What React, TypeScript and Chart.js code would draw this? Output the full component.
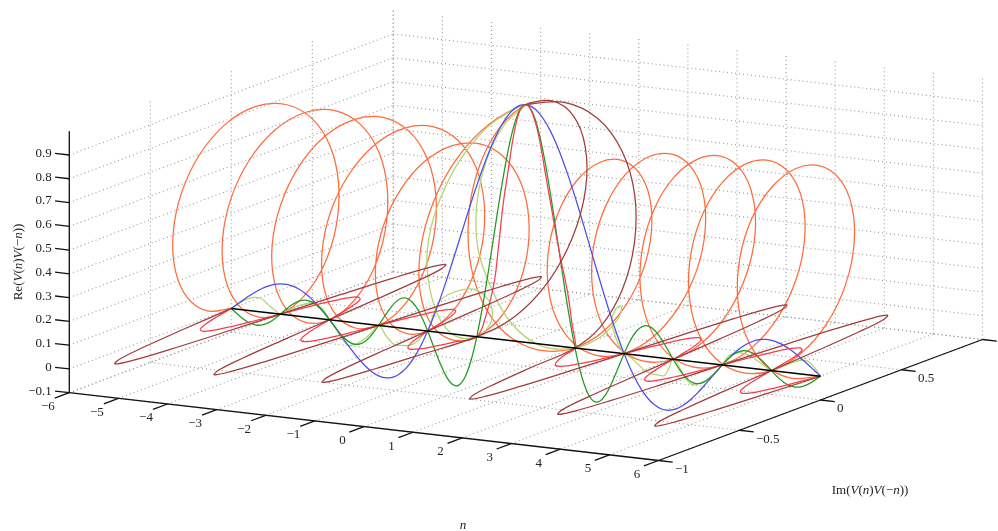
import React, { useEffect, useRef } from "react";
import { Chart, registerables } from "chart.js";

Chart.register(...registerables);

const WIDTH = 998;
const HEIGHT = 531;

// Tick values of the three axes
const nTicks = [-6, -5, -4, -3, -2, -1, 0, 1, 2, 3, 4, 5, 6];
const imTicks = [-1, -0.5, 0, 0.5, 1];
const imLabels = ["\u22121", "\u22120.5", "0", "0.5", ""];
const reTicks = [-0.1, 0, 0.1, 0.2, 0.3, 0.4, 0.5, 0.6, 0.7, 0.8, 0.9];
const reLabels = ["\u22120.1", "0", "0.1", "0.2", "0.3", "0.4", "0.5", "0.6", "0.7", "0.8", "0.9"];

// Every curve is even in n, so values are read for n >= 0 and mirrored.
const nValues = [
  0, 0.125, 0.25, 0.375, 0.5, 0.625, 0.75, 0.875,
  1, 1.125, 1.25, 1.375, 1.5, 1.625, 1.75, 1.875,
  2, 2.125, 2.25, 2.375, 2.5, 2.625, 2.75, 2.875,
  3, 3.125, 3.25, 3.375, 3.5, 3.625, 3.75, 3.875,
  4, 4.125, 4.25, 4.375, 4.5, 4.625, 4.75, 4.875,
  5, 5.125, 5.25, 5.375, 5.5, 5.625, 5.75, 5.875, 6,
];

// The orange loops are wide, so they are read twice as densely.
const nOrange = [
  0, 0.0625, 0.125, 0.1875, 0.25, 0.3125, 0.375, 0.4375, 0.5, 0.5625, 0.625, 0.6875, 0.75, 0.8125, 0.875, 0.9375,
  1, 1.0625, 1.125, 1.1875, 1.25, 1.3125, 1.375, 1.4375, 1.5, 1.5625, 1.625, 1.6875, 1.75, 1.8125, 1.875, 1.9375,
  2, 2.0625, 2.125, 2.1875, 2.25, 2.3125, 2.375, 2.4375, 2.5, 2.5625, 2.625, 2.6875, 2.75, 2.8125, 2.875, 2.9375,
  3, 3.0625, 3.125, 3.1875, 3.25, 3.3125, 3.375, 3.4375, 3.5, 3.5625, 3.625, 3.6875, 3.75, 3.8125, 3.875, 3.9375,
  4, 4.0625, 4.125, 4.1875, 4.25, 4.3125, 4.375, 4.4375, 4.5, 4.5625, 4.625, 4.6875, 4.75, 4.8125, 4.875, 4.9375,
  5, 5.0625, 5.125, 5.1875, 5.25, 5.3125, 5.375, 5.4375, 5.5, 5.5625, 5.625, 5.6875, 5.75, 5.8125, 5.875, 5.9375, 6,
];

const blueRe = [
  1, 0.9936, 0.9745, 0.9432, 0.9003, 0.847, 0.7842, 0.7136,
  0.6366, 0.555, 0.4705, 0.385, 0.3001, 0.2177, 0.1392, 0.0662,
  0, -0.0585, -0.1083, -0.1489, -0.1801, -0.2017, -0.2139, -0.2172,
  -0.2122, -0.1998, -0.181, -0.1568, -0.1286, -0.0976, -0.065, -0.0321,
  0, 0.0301, 0.0573, 0.0808, 0.1, 0.1145, 0.1238, 0.1281,
  0.1273, 0.1218, 0.112, 0.0985, 0.0818, 0.0629, 0.0424, 0.0211, 0,
];

const greenRe = [
  1, 0.9745, 0.9003, 0.7842, 0.6366, 0.4705, 0.3001, 0.1392,
  0, -0.1083, -0.1801, -0.2139, -0.2122, -0.181, -0.1286, -0.065,
  0, 0.0573, 0.1, 0.1238, 0.1273, 0.112, 0.0818, 0.0424,
  0, -0.039, -0.0693, -0.0871, -0.0909, -0.0811, -0.06, -0.0314,
  0, 0.0295, 0.053, 0.0672, 0.0707, 0.0636, 0.0474, 0.025,
  0, -0.0238, -0.0429, -0.0547, -0.0579, -0.0523, -0.0391, -0.0207, 0,
];

const orangeIm = [
  0, -0.098, -0.191, -0.278, -0.354, -0.416, -0.462, -0.49, -0.5, -0.49, -0.462, -0.416, -0.354, -0.278, -0.191, -0.098,
  0, 0.152, 0.28, 0.366, 0.396, 0.366, 0.28, 0.152, 0, -0.152, -0.28, -0.366, -0.396, -0.366, -0.28, -0.152,
  0, 0.163, 0.3, 0.393, 0.425, 0.393, 0.3, 0.163, 0, -0.163, -0.3, -0.393, -0.425, -0.393, -0.3, -0.163,
  0, 0.165, 0.304, 0.397, 0.43, 0.397, 0.304, 0.165, 0, -0.165, -0.304, -0.397, -0.43, -0.397, -0.304, -0.165,
  0, 0.166, 0.306, 0.4, 0.433, 0.4, 0.306, 0.166, 0, -0.166, -0.306, -0.4, -0.433, -0.4, -0.306, -0.166,
  0, 0.166, 0.308, 0.402, 0.435, 0.402, 0.308, 0.166, 0, -0.166, -0.308, -0.402, -0.435, -0.402, -0.308, -0.166, 0,
];
const orangeRe = [
  1, 0.99, 0.962, 0.916, 0.854, 0.778, 0.691, 0.598, 0.5, 0.402, 0.309, 0.222, 0.146, 0.084, 0.038, 0.01,
  0, 0.03, 0.116, 0.244, 0.396, 0.548, 0.676, 0.762, 0.792, 0.762, 0.676, 0.548, 0.396, 0.244, 0.116, 0.03,
  0, 0.032, 0.123, 0.259, 0.42, 0.581, 0.717, 0.808, 0.84, 0.808, 0.717, 0.581, 0.42, 0.259, 0.123, 0.032,
  0, 0.032, 0.125, 0.264, 0.427, 0.59, 0.729, 0.822, 0.854, 0.822, 0.729, 0.59, 0.427, 0.264, 0.125, 0.032,
  0, 0.033, 0.126, 0.265, 0.43, 0.595, 0.734, 0.827, 0.86, 0.827, 0.734, 0.595, 0.43, 0.265, 0.126, 0.033,
  0, 0.033, 0.126, 0.266, 0.431, 0.596, 0.736, 0.829, 0.862, 0.829, 0.736, 0.596, 0.431, 0.266, 0.126, 0.033, 0,
];

const brownIm = [
  0, 0.199, 0.368, 0.48, 0.52, 0.48, 0.368, 0.199,
  0, -0.306, -0.566, -0.739, -0.8, -0.739, -0.566, -0.306,
  0, 0.326, 0.602, 0.787, 0.852, 0.787, 0.602, 0.326,
  0, -0.33, -0.61, -0.797, -0.863, -0.797, -0.61, -0.33,
  0, 0.332, 0.614, 0.802, 0.868, 0.802, 0.614, 0.332,
  0, -0.333, -0.615, -0.804, -0.87, -0.804, -0.615, -0.333, 0,
];
const brownRe = [
  1, 0.962, 0.854, 0.691, 0.5, 0.309, 0.146, 0.038,
  0, 0, 0, 0, 0, 0, 0, 0,
  0, 0, 0, 0, 0, 0, 0, 0,
  0, 0, 0, 0, 0, 0, 0, 0,
  0, 0, 0, 0, 0, 0, 0, 0,
  0, 0, 0, 0, 0, 0, 0, 0, 0,
];

const redIm = [
  0, 0, 0.003, 0.006, 0.01, 0.02, 0.03, 0.02,
  0, -0.098, -0.18, -0.236, -0.255, -0.236, -0.18, -0.098,
  0, 0.119, 0.219, 0.286, 0.31, 0.286, 0.219, 0.119,
  0, -0.121, -0.223, -0.291, -0.315, -0.291, -0.223, -0.121,
  0, 0.126, 0.232, 0.303, 0.328, 0.303, 0.232, 0.126,
  0, -0.126, -0.233, -0.305, -0.33, -0.305, -0.233, -0.126, 0,
];
const redRe = [
  1, 0.97, 0.875, 0.72, 0.56, 0.38, 0.22, 0.09,
  0, 0, 0, 0, 0, 0, 0, 0,
  0, 0, 0, 0, 0, 0, 0, 0,
  0, 0, 0, 0, 0, 0, 0, 0,
  0, 0, 0, 0, 0, 0, 0, 0,
  0, 0, 0, 0, 0, 0, 0, 0, 0,
];

const limeIm = [
  0, -0.172, -0.318, -0.416, -0.45, -0.416, -0.318, -0.172,
  0, 0.12, 0.17, 0.17, 0.13, 0.06, 0, -0.01,
  0, 0.01, 0.02, 0.02, 0.02, 0.02, 0.02, 0.01,
  0, 0, -0.01, -0.02, -0.03, -0.02, -0.01, 0,
  0, 0, 0, 0, 0, 0, 0, 0,
  0, 0.005, 0.01, 0.02, 0.03, 0.03, 0.02, 0.01, 0,
];
const limeRe = [
  1, 0.962, 0.855, 0.7, 0.53, 0.37, 0.18, 0.05,
  0, 0.02, 0.067, 0.115, 0.155, 0.16, 0.134, 0.06,
  0, -0.02, -0.05, -0.07, -0.078, -0.08, -0.08, -0.045,
  0, -0.03, -0.06, -0.08, -0.088, -0.08, -0.06, -0.03,
  0, 0.04, 0.055, 0.06, 0.055, 0.045, 0.03, 0.015,
  0, 0.012, 0.025, 0.038, 0.047, 0.048, 0.04, 0.022, 0,
];

// Orthographic view of the 3D box: (n, Im, Re) onto the plane of the picture
const project = (n: number, im: number, re: number) => ({
  x: 69.3 + (n + 6) * 49.1 + (im + 1) * 162,
  y: 392.7 + (n + 6) * 5.65 - (im + 1) * 60.5 - (re + 0.1) * 237.7,
});

const mirrored = (ns: number[], im: number[] | null, re: number[] | null) => {
  const pts: { x: number; y: number }[] = [];
  for (let i = ns.length - 1; i > 0; i--) {
    pts.push(project(-ns[i], im ? im[i] : 0, re ? re[i] : 0));
  }
  for (let i = 0; i < ns.length; i++) {
    pts.push(project(ns[i], im ? im[i] : 0, re ? re[i] : 0));
  }
  return pts;
};

const curve = (data: { x: number; y: number }[], color: string, tension = 0.38) => ({
  data,
  showLine: true,
  borderColor: color,
  borderWidth: 1.25,
  pointRadius: 0,
  tension,
  clip: false,
});

const straight = (
  a: [number, number, number],
  b: [number, number, number],
  color: string,
  width: number,
  dash: number[] = []
) => ({
  data: [project(...a), project(...b)],
  showLine: true,
  borderColor: color,
  borderWidth: width,
  borderDash: dash,
  pointRadius: 0,
  tension: 0,
  clip: false,
});

const buildDatasets = () => {
  const black = "#000000";
  const ink = "#111111";
  const dots = "#999999";
  const dash = [1, 3];
  const bottom = reTicks[0];
  const top = 1;
  const out: any[] = [];

  // The first dataset is painted last
  out.push(straight([-6, 0, 0], [6, 0, 0], black, 1.5));
  out.push(curve(mirrored(nValues, brownIm, brownRe), "#a23c3c"));
  out.push(curve(mirrored(nValues, redIm, redRe), "#f83c4c"));
  out.push(curve(mirrored(nValues, null, greenRe), "#1f9a1f"));
  out.push(curve(mirrored(nValues, null, blueRe), "#4b4bf2"));
  out.push(curve(mirrored(nValues, limeIm, limeRe), "#b0d56e"));
  out.push(curve(mirrored(nOrange, orangeIm, orangeRe), "#ff6b3a", 0.34));

  // Axes and tick marks
  out.push(straight([-6, -1, bottom], [-6, -1, top], ink, 1.3));
  out.push(straight([-6, -1, bottom], [6, -1, bottom], ink, 1.3));
  out.push(straight([6, -1, bottom], [6, 1, bottom], ink, 1.3));
  reTicks.forEach((r) => out.push(straight([-6, -1, r], [-6.29, -1, r], ink, 1.3)));
  nTicks.forEach((n) => out.push(straight([n, -1, bottom], [n, -1.09, bottom], ink, 1.3)));
  imTicks.forEach((m) => out.push(straight([6, m, bottom], [6.29, m, bottom], ink, 1.3)));

  // Dotted box grid
  nTicks.forEach((n) => {
    out.push(straight([n, -1, bottom], [n, 1, bottom], dots, 1.1, dash));
    out.push(straight([n, 1, bottom], [n, 1, top], dots, 1.1, dash));
  });
  imTicks.forEach((m) => {
    out.push(straight([-6, m, bottom], [6, m, bottom], dots, 1.1, dash));
    out.push(straight([-6, m, bottom], [-6, m, top], dots, 1.1, dash));
  });
  reTicks.forEach((r) => {
    out.push(straight([-6, -1, r], [-6, 1, r], dots, 1.1, dash));
    out.push(straight([-6, 1, r], [6, 1, r], dots, 1.1, dash));
  });
  return out;
};

const SERIF = '"Liberation Serif"';

const richText = (
  ctx: CanvasRenderingContext2D,
  pieces: [string, boolean][],
  size: number
) => {
  const fontOf = (italic: boolean) => `${italic ? "italic " : ""}${size}px ${SERIF}`;
  let total = 0;
  pieces.forEach(([s, it]) => {
    ctx.font = fontOf(it);
    total += ctx.measureText(s).width;
  });
  let x = -total / 2;
  ctx.textAlign = "left";
  pieces.forEach(([s, it]) => {
    ctx.font = fontOf(it);
    ctx.fillText(s, x, 0);
    x += ctx.measureText(s).width;
  });
};

const titlePieces = (head: string): [string, boolean][] => [
  [head + "(", false],
  ["V", true],
  ["(", false],
  ["n", true],
  [")", false],
  ["V", true],
  ["(\u2212", false],
  ["n", true],
  ["))", false],
];

const labelPlugin = {
  id: "boxLabels",
  afterDatasetsDraw(chart: any) {
    const ctx: CanvasRenderingContext2D = chart.ctx;
    const sx = chart.scales.x;
    const sy = chart.scales.y;
    const at = (n: number, im: number, re: number) => {
      const p = project(n, im, re);
      return { x: sx.getPixelForValue(p.x), y: sy.getPixelForValue(p.y) };
    };
    ctx.save();
    ctx.fillStyle = "#222222";
    ctx.textBaseline = "middle";
    ctx.font = `13px ${SERIF}`;

    ctx.textAlign = "right";
    reTicks.forEach((r, i) => {
      const p = at(-6, -1, r);
      ctx.fillText(reLabels[i], p.x - 17.5, p.y - 1.5);
    });
    ctx.textAlign = "center";
    nTicks.forEach((n) => {
      const p = at(n, -1, -0.1);
      const text = n < 0 ? `\u2212${-n}` : `${n}`;
      ctx.fillText(text, p.x - 21.5, p.y + 14);
    });
    ctx.textAlign = "left";
    imTicks.forEach((m, i) => {
      const p = at(6, m, -0.1);
      ctx.fillText(imLabels[i], p.x + 16.5, p.y + 9);
    });

    ctx.save();
    ctx.translate(18.5, 262);
    ctx.rotate(-Math.PI / 2);
    richText(ctx, titlePieces("Re"), 13);
    ctx.restore();

    ctx.save();
    ctx.translate(870, 491);
    richText(ctx, titlePieces("Im"), 13);
    ctx.restore();

    ctx.save();
    ctx.translate(463, 526);
    richText(ctx, [["n", true]], 13);
    ctx.restore();

    ctx.restore();
  },
};

export default function App() {
  const ref = useRef<HTMLCanvasElement | null>(null);
  useEffect(() => {
    if (!ref.current) return;
    const chart = new Chart(ref.current, {
      type: "scatter",
      data: { datasets: buildDatasets() },
      options: {
        animation: false,
        responsive: false,
        devicePixelRatio: 1,
        events: [],
        layout: { padding: 0 },
        plugins: { legend: { display: false }, tooltip: { enabled: false } },
        scales: {
          x: { type: "linear", min: 0, max: WIDTH, display: false },
          y: { type: "linear", min: 0, max: HEIGHT, reverse: true, display: false },
        },
      },
      plugins: [labelPlugin],
    } as any);
    return () => chart.destroy();
  }, []);
  return (
    <div style={{ position: "fixed", left: 0, top: 0, width: WIDTH, height: HEIGHT, background: "#fff" }}>
      <canvas ref={ref} width={WIDTH} height={HEIGHT} style={{ display: "block" }} />
    </div>
  );
}
